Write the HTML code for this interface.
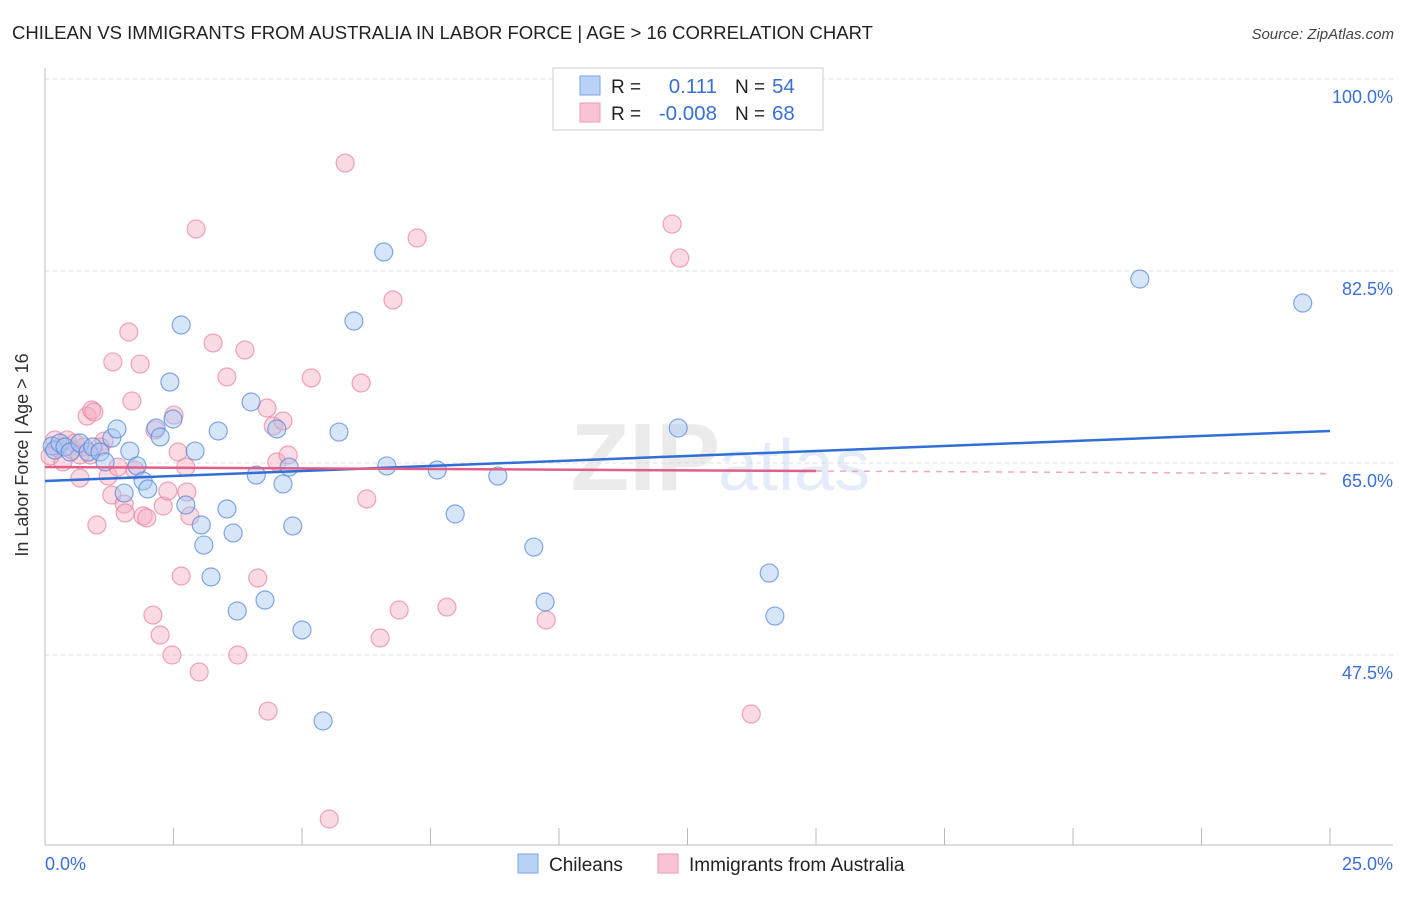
<!DOCTYPE html>
<html><head><meta charset="utf-8"><style>
body{margin:0;background:#fff;font-family:"Liberation Sans",sans-serif}
svg text{font-family:"Liberation Sans",sans-serif}
</style></head><body>
<svg id="c" width="1406" height="892">
<text x="12" y="39" font-size="18.5" fill="#222">CHILEAN VS IMMIGRANTS FROM AUSTRALIA IN LABOR FORCE | AGE &gt; 16 CORRELATION CHART</text>
<text x="1394" y="39" font-size="15" fill="#444" text-anchor="end" font-style="italic">Source: ZipAtlas.com</text>
<text x="720" y="490" font-size="96" fill="#ebebeb" text-anchor="end" font-family="Liberation Serif" font-weight="bold">ZIP</text>
<text x="718" y="490" font-size="72" fill="#e3ecf8">atlas</text>
<g id="grid"></g><g id="marks"></g>
<text x="28" y="455" font-size="18" fill="#333" text-anchor="middle" transform="rotate(-90 28 455)">In Labor Force | Age &gt; 16</text>
<g>
<rect x="553" y="68" width="270" height="62" fill="#fff" stroke="#ccc"/>
<rect x="580" y="76" width="20" height="19" fill="#b9d2f5" stroke="#7aa6e6"/>
<rect x="580" y="103" width="20" height="19" fill="#f8c4d3" stroke="#ee9ab3"/>
<text x="611" y="93" font-size="19" fill="#222">R =</text><text x="717" y="93" font-size="20.5" fill="#3a6fd4" text-anchor="end">0.111</text>
<text x="735" y="93" font-size="19" fill="#222">N =</text><text x="772" y="93" font-size="20.5" fill="#3a6fd4">54</text>
<text x="611" y="120" font-size="19" fill="#222">R =</text><text x="717" y="120" font-size="20.5" fill="#3a6fd4" text-anchor="end">-0.008</text>
<text x="735" y="120" font-size="19" fill="#222">N =</text><text x="772" y="120" font-size="20.5" fill="#3a6fd4">68</text>
</g>
<g>
<rect x="518" y="854" width="20" height="19" fill="#b9d2f5" stroke="#7aa6e6"/><text x="549" y="871" font-size="19" fill="#222">Chileans</text>
<rect x="658" y="854" width="20" height="19" fill="#f8c4d3" stroke="#ee9ab3"/><text x="689" y="871" font-size="19" fill="#222">Immigrants from Australia</text>
</g>
</svg>
<script>
const yTicks=[100,82.5,65,47.5];
const yTickLabels=["100.0%","82.5%","65.0%","47.5%"];
const xTicks=[0,2.5,5,7.5,10,12.5,15,17.5,20,22.5,25];
const blueX=[0.14,0.19,0.29,0.39,0.49,0.68,0.84,0.93,1.07,1.17,1.30,1.40,1.54,1.65,1.79,1.91,2.00,2.16,2.24,2.43,2.49,2.65,2.74,2.92,3.04,3.09,3.23,3.37,3.54,3.66,3.74,4.01,4.11,4.28,4.51,4.63,4.75,4.82,5.0,5.41,5.72,6.01,6.59,6.65,7.63,7.98,8.81,9.51,9.73,12.32,14.09,14.20,21.30,24.47];
const blueY=[66.55,66.18,66.82,66.46,66.0,66.82,66.0,66.46,66.0,65.09,67.28,68.1,62.26,66.09,64.73,63.36,62.63,68.19,67.37,72.38,69.01,77.58,61.17,66.09,59.35,57.52,54.61,67.92,60.81,58.62,51.51,70.56,63.90,52.51,68.1,63.09,64.63,59.26,49.78,41.49,67.82,77.94,84.23,64.73,64.36,60.35,63.81,57.34,52.33,68.19,54.97,51.05,81.77,79.58];
const pinkX=[0.10,0.19,0.25,0.35,0.43,0.53,0.58,0.68,0.76,0.82,0.91,0.95,1.01,1.15,1.23,1.30,1.32,1.42,1.54,1.56,1.63,1.69,1.85,1.91,1.98,2.10,2.24,2.30,2.39,2.47,2.51,2.59,2.65,2.74,2.76,2.82,2.94,3.0,3.27,3.54,3.75,3.89,4.14,4.32,4.34,4.44,4.51,4.63,4.73,5.18,5.84,6.15,6.26,6.52,6.77,6.89,7.24,7.82,9.75,12.2,12.35,13.74,5.53,0.68,1.07,1.75,2.14,0.88];
const pinkY=[65.64,67.10,66.37,65.09,67.10,66.18,66.82,63.63,66.46,69.28,69.83,69.65,59.35,67.0,63.81,62.08,74.21,64.63,61.26,60.44,76.94,70.65,74.02,60.17,59.99,51.14,49.32,61.08,62.45,47.5,69.37,66.0,54.70,64.63,62.36,60.17,86.33,45.95,75.94,72.84,47.5,75.30,54.52,70.01,42.39,68.37,65.09,68.83,65.73,72.75,92.34,72.29,61.72,49.05,79.86,51.60,85.51,51.87,50.69,86.78,83.68,42.12,32.55,65.73,66.46,64.36,68.01,65.73];
const blueTrend=[63.36,67.92];
const pinkTrend=[64.63,64.03];
const NS="http://www.w3.org/2000/svg";
const sx=v=>45+v/25*1285, sy=v=>79+(100-v)/17.5*192;
function mk(t,a,p){const e=document.createElementNS(NS,t);for(const k in a)e.setAttribute(k,a[k]);p.appendChild(e);return e;}
const g=document.getElementById('grid'),m=document.getElementById('marks');
yTicks.forEach((v,i)=>{
 const l=mk('line',{x1:45,x2:1393,y1:sy(v),y2:sy(v),stroke:'#ddd','stroke-dasharray':'4,4'},g);
 
 
 const t=mk('text',{x:1393,y:sy(v)+24,'font-size':18,fill:'#3a6fd4','text-anchor':'end'},g);t.textContent=yTickLabels[i];
 
 
});
mk('line',{x1:45,x2:45,y1:68,y2:845,stroke:'#bbb'},g);
mk('line',{x1:45,x2:1393,y1:845,y2:845,stroke:'#bbb'},g);
xTicks.forEach(v=>{if(v>0){const l=mk('line',{x1:sx(v),x2:sx(v),y1:828,y2:845,stroke:'#bbb'},g);
 
 }});
[[0,"0.0%",'start',45],[25,"25.0%",'end',1393]].forEach(a=>{const t=mk('text',{x:a[3],y:870,'font-size':18,fill:'#3a6fd4','text-anchor':a[2]},g);t.textContent=a[1];
 
 });
function dots(X,Y,f,s,n){X.forEach((x,i)=>{const c=mk('circle',{cx:sx(x),cy:sy(Y[i]),r:9,fill:f,'fill-opacity':0.45,stroke:s,'stroke-opacity':0.7,'stroke-width':1.2},m);
 
 });}
dots(pinkX,pinkY,'#f5adc2','#e8809f','pink-point');
dots(blueX,blueY,'#a7c6f2','#4f86d8','blue-point');
const bl=mk('line',{x1:sx(0),y1:sy(blueTrend[0]),x2:sx(25),y2:sy(blueTrend[1]),stroke:'#2f6fd6','stroke-width':2.5},m);


const pm=pinkTrend[0]+(pinkTrend[1]-pinkTrend[0])*15/25;
const pl=mk('line',{x1:sx(0),y1:sy(pinkTrend[0]),x2:sx(15),y2:sy(pm),stroke:'#e0608a','stroke-width':2.5},m);


const pd=mk('line',{x1:sx(15),y1:sy(pm),x2:sx(25),y2:sy(pinkTrend[1]),stroke:'#f0a8bf','stroke-width':1.5,'stroke-dasharray':'6,6'},m);


</script>
</body></html>
